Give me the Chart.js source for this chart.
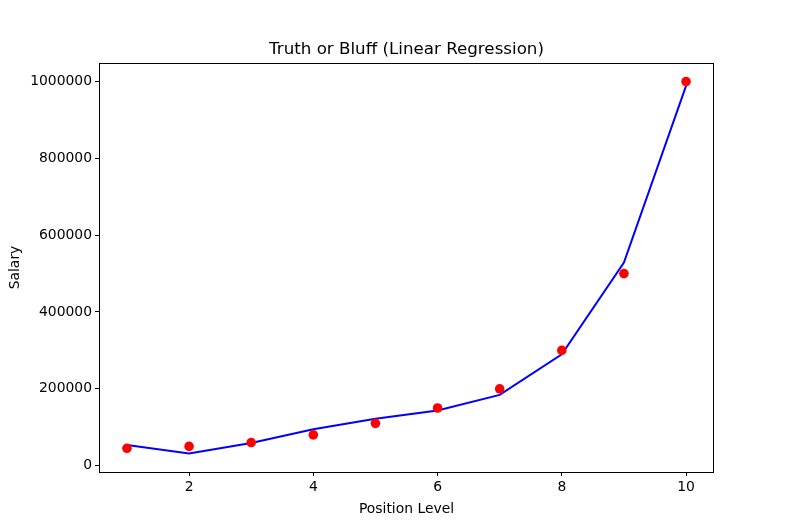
<!DOCTYPE html>
<html>
<head>
<meta charset="utf-8">
<script src="https://cdn.jsdelivr.net/npm/chart.js@4/dist/chart.umd.min.js"></script>
<style>
  html, body { margin: 0; padding: 0; background: #fff; }
  #wrap { width: 790px; height: 530px; }
</style>
</head>
<body>
<div id="wrap"><canvas id="chart" width="790" height="530"></canvas></div>
<script>
// data
const levels = [1, 2, 3, 4, 5, 6, 7, 8, 9, 10];
const salaries = [45000, 50000, 60000, 80000, 110000, 150000, 200000, 300000, 500000, 1000000];
const predicted = [53357, 31760, 58643, 94632, 121724, 143275, 184004, 289994, 528695, 988917];
const xTicks = [2, 4, 6, 8, 10];
const yTicks = [0, 200000, 400000, 600000, 800000, 1000000];

const FONT = 'DejaVu Sans';
const fontSize = 13.9;

// frame + title like matplotlib
const framePlugin = {
    id: 'frame',
    afterDraw(chart) {
        const { ctx, chartArea: a } = chart;
        ctx.save();
        ctx.strokeStyle = '#000';
        ctx.lineWidth = 1;
        ctx.strokeRect(Math.round(a.left) + 0.5, Math.round(a.top) + 0.5,
            Math.round(a.right - a.left) - 1, Math.round(a.bottom - a.top));
        ctx.fillStyle = '#000';
        ctx.font = '16.7px "' + FONT + '"';
        ctx.textAlign = 'center';
        ctx.textBaseline = 'alphabetic';
        ctx.fillText('Truth or Bluff (Linear Regression)', (a.left + a.right) / 2, a.top - 9);
        ctx.restore();
    }
};

const ctx = document.getElementById('chart').getContext('2d');
new Chart(ctx, {
    type: 'scatter',
    data: {
        datasets: [{
            label: 'Actual',
            data: levels.map((x, i) => ({ x: x, y: salaries[i] })),
            backgroundColor: '#ff0000',
            borderColor: '#ff0000',
            pointRadius: 4.8,
            pointBorderWidth: 0,
            showLine: false
        }, {
            label: 'Predicted',
            data: levels.map((x, i) => ({ x: x, y: predicted[i] })),
            borderColor: '#0000ff',
            borderWidth: 2,
            pointRadius: 0,
            showLine: true,
            tension: 0
        }]
    },
    options: {
        responsive: false,
        animation: false,
        devicePixelRatio: 1,
        layout: { padding: { top: 63, right: 76, left: 0, bottom: 0 } },
        plugins: {
            legend: { display: false },
            tooltip: { enabled: false }
        },
        scales: {
            x: {
                type: 'linear',
                min: 0.55,
                max: 10.45,
                afterBuildTicks: s => { s.ticks = xTicks.map(v => ({ value: v })); },
                afterFit: s => { s.height = 58; },
                grid: { drawOnChartArea: false, drawTicks: true, tickLength: 4, tickColor: '#000' },
                border: { display: false },
                ticks: { color: '#000', padding: 3, maxRotation: 0, font: { family: FONT, size: fontSize } },
                title: { display: true, text: 'Position Level', color: '#000', padding: { top: 0, bottom: 12 }, font: { family: FONT, size: fontSize } }
            },
            y: {
                type: 'linear',
                min: -16653,
                max: 1048412,
                afterBuildTicks: s => { s.ticks = yTicks.map(v => ({ value: v })); },
                afterFit: s => { s.width = 99; },
                grid: { drawOnChartArea: false, drawTicks: true, tickLength: 4, tickColor: '#000' },
                border: { display: false },
                ticks: { color: '#000', padding: 3, font: { family: FONT, size: fontSize }, callback: v => String(v) },
                title: { display: true, text: 'Salary', color: '#000', padding: { top: 7, bottom: 0 }, font: { family: FONT, size: fontSize } }
            }
        }
    },
    plugins: [framePlugin]
});
</script>
</body>
</html>
